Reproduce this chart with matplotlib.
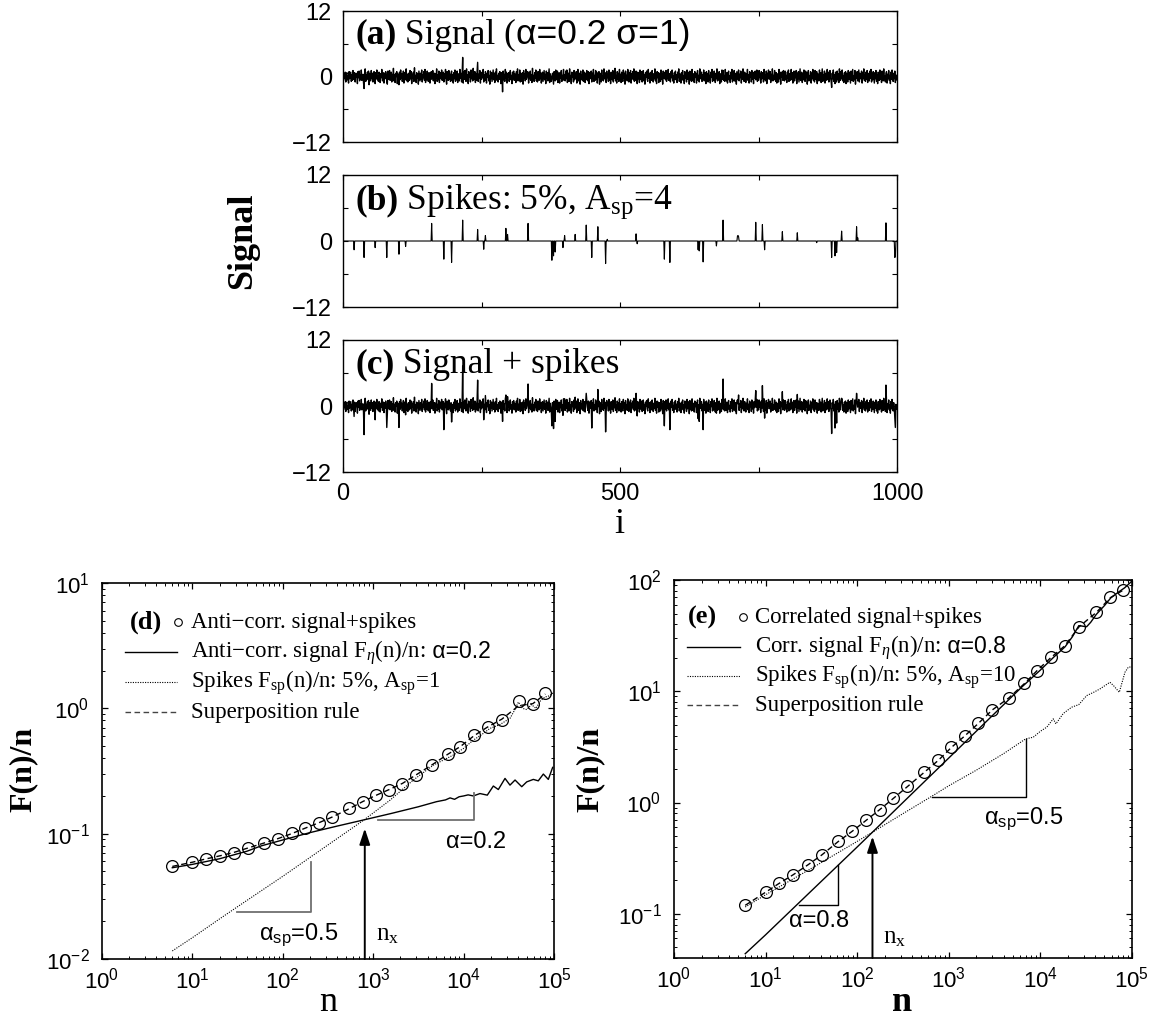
import numpy as np
import matplotlib
matplotlib.use("Agg")
import matplotlib.pyplot as plt
from matplotlib.ticker import LogLocator, NullFormatter, FixedLocator

plt.rcParams["font.family"] = ["Liberation Sans", "DejaVu Sans"]
plt.rcParams["mathtext.fontset"] = "custom"
plt.rcParams["mathtext.rm"] = "Liberation Serif"
plt.rcParams["mathtext.it"] = "Liberation Serif:italic"
plt.rcParams["mathtext.bf"] = "Liberation Serif:bold"
plt.rcParams["mathtext.sf"] = "Liberation Sans"

# ---------------------------------------------------------------- data
# anti-correlated signal (alpha=0.2, sigma=1), values in tenths
signal_tenths = [
    2,-7,5,-3,8,-10,4,7,-6,1,-12,9,-4,2,8,-9,3,-7,11,-5,-3,7,-10,5,-1,6,-13,9,-2,10,-8,3,-5,12,-7,1,4,-11,-22,6,14,-9,3,-6,8,-2,10,-15,6,-1,
    -8,11,-4,6,-10,2,9,-5,-13,7,-3,12,-6,1,-9,8,4,-11,5,-2,13,-8,-1,7,-12,6,-4,9,3,-9,-14,10,-5,2,11,-7,-2,8,-10,4,-6,15,-8,3,-11,6,0,9,-13,5,
    -4,-15,8,-6,12,-3,5,-9,2,10,-12,7,-1,-6,14,-8,3,-10,6,1,-7,11,-4,9,-13,4,-2,8,-9,16,-6,2,-11,7,-3,5,-14,10,1,-8,6,-5,12,-10,3,-2,9,-7,13,-11,
    4,-6,10,-3,-9,7,2,-12,8,-5,9,-4,11,-8,1,6,-13,5,-2,14,-9,3,-6,10,-11,2,7,-4,12,-7,-1,8,-10,5,-3,13,-6,-14,9,2,-7,11,-5,4,-9,6,10,-8,3,-12,
    7,-4,12,-9,2,-6,10,-11,5,1,-8,13,-3,6,-10,4,35,-12,8,-5,11,-2,-9,14,-7,3,-13,9,-1,6,-10,12,-4,2,-8,15,-6,-2,9,-11,5,-7,10,26,-9,4,-3,11,-12,6,
    -5,8,-2,13,-10,3,-7,9,4,-12,6,-1,11,-8,2,-14,10,-4,7,-9,1,12,-6,5,-11,8,-3,14,-7,2,-10,6,-5,9,1,-13,7,-2,-28,10,-6,4,-9,13,-3,8,-12,5,-1,7,
    -9,4,11,-6,2,-13,8,-3,10,-7,5,-1,-11,9,-4,14,-8,3,-6,12,-10,6,1,-9,7,-14,11,-2,5,-8,13,-5,-1,9,8,-12,6,-4,10,-7,3,-11,15,-6,2,-9,7,-3,12,-8,
    5,-10,9,-2,-7,13,-4,6,-12,3,8,-9,1,11,-6,4,-13,10,-3,7,-8,2,14,-11,5,-1,-9,-1,6,-5,-14,9,3,-8,12,-6,-2,10,-11,4,7,-12,6,-3,11,-9,2,-5,13,-7,
    3,-8,10,-4,12,-11,1,6,-9,14,-5,2,-13,8,-1,7,-10,11,-6,4,-3,9,-12,5,13,-8,-2,6,-14,10,-4,3,-7,12,-9,1,8,-11,5,-6,11,-2,-8,9,-13,7,-4,2,10,-10,
    6,-3,13,-9,2,-7,11,-5,8,-12,4,-1,9,-14,6,3,-10,12,-6,1,-8,14,-4,7,-6,-11,10,-2,5,-9,12,-7,3,-13,8,-1,-6,11,-10,4,-3,15,-8,2,-12,9,-5,6,-9,13,
    -7,4,-11,8,1,-9,12,-3,6,-14,10,-5,2,-8,13,-1,-10,7,-4,11,-12,5,-2,9,-6,14,-9,3,-7,10,1,-13,8,-4,6,-11,12,-2,-6,9,-10,4,11,-8,3,-14,7,-1,10,-5,
    -9,13,-3,6,-12,2,8,-7,11,-1,-10,5,-4,14,-8,3,-13,9,-2,7,-11,6,1,-9,12,-5,4,-14,10,-3,-3,8,-6,11,-9,2,-4,13,-7,5,-4,-10,9,-2,12,-8,1,-12,7,-5,
    10,-6,3,-11,8,-2,14,-9,5,-1,-12,7,-4,11,-7,2,-13,9,-3,6,-10,12,-5,1,8,-14,10,-6,3,-9,13,-2,-8,5,-11,9,-1,6,-12,4,11,-7,2,-10,14,-4,-3,8,-9,3,
    -5,12,-8,1,7,-13,9,-3,5,-10,11,-6,2,-12,8,-1,13,-9,4,-7,10,-2,-11,6,-4,14,-8,3,-6,9,-13,5,1,-10,12,-5,11,-7,2,-9,13,-3,-8,7,-12,4,10,-6,1,-11,
    8,-4,13,-10,3,-7,11,-1,-9,6,-14,9,2,-6,12,-8,4,-2,10,-12,7,-5,14,-3,-9,8,1,-11,5,-4,13,-7,3,-12,9,-1,6,-10,11,-5,2,-13,8,-3,10,-6,-2,12,-9,4,
    -7,11,-2,5,-12,9,-4,7,1,-10,13,-6,3,-8,10,-13,6,-1,12,-5,-3,9,-11,4,-7,14,-8,2,-6,11,-2,-9,7,-12,5,3,-10,13,-4,8,-14,6,-1,9,-7,11,-3,-8,10,-5,
    2,-11,8,-3,12,-9,5,-1,-7,13,-5,7,-12,1,10,-8,4,-2,11,-13,6,-4,9,-10,3,14,-7,-1,8,-11,5,-6,12,-3,-9,10,-2,7,-14,4,11,-8,1,-5,9,-12,6,-3,13,-7,
    4,-10,11,-2,-6,9,-13,5,2,-8,12,-4,7,-11,1,14,-9,3,-6,10,-12,6,-1,-7,13,-5,8,-10,2,11,-3,-8,-20,6,-4,12,-9,3,-13,8,-1,-10,10,-6,5,-11,14,-2,-7,9,
    -4,12,-8,2,-11,7,-1,9,-13,6,3,-10,11,-5,8,-2,-12,10,-7,4,13,-9,1,-6,11,-14,5,-3,9,-8,2,12,-10,6,-4,-1,10,-12,7,-3,14,-7,3,-9,8,-5,11,-11,1,6,
    -8,10,-3,13,-10,4,-6,9,-1,-12,7,-4,11,-9,3,-13,8,2,-7,12,-5,6,-11,10,-2,-8,14,-6,1,-10,5,9,-12,4,-3,11,-7,2,-13,8,-5,12,-1,-9,6,-4,10,-11,3,-6,
]

# spikes: 5 % of the points, amplitude up to A_sp = 4
spike_pos = [20, 38, 58, 79, 101, 113, 160, 182, 196, 216, 243, 254, 257, 294, 297,
             334, 377, 380, 383, 397, 400, 419, 439, 449, 460, 474, 477, 529, 531,
             580, 590, 641, 643, 650, 674, 686, 712, 713, 714, 745, 757, 761, 793,
             820, 855, 882, 888, 891, 900, 927, 929, 980, 996, 997]
spike_amp = [-1.6, -3.0, -1.2, -3.0, -2.4, -1.0, 3.2, -3.3, -3.9, 3.8, 2.1, -1.5, 1.0, 2.3, 1.2,
             3.2, -3.5, -2.7, -2.0, -1.2, 1.0, 1.2, 2.9, -3.0, 2.6, -4.1, 0.3, 1.3, -0.5,
             -3.3, -3.9, -1.6, -1.8, -3.8, -0.9, 3.8, 0.9, 1.0, 0.8, 3.4, 3.0, -1.6, 1.7,
             1.5, -0.3, -3.0, -2.7, -2.1, 1.8, 2.6, 0.6, 3.3, -3.0, -2.8]

# window sizes n of the fluctuation analysis (circles)
win_n = [6, 10, 14, 20, 29, 41, 62, 88, 125, 176, 249, 354, 541, 773, 1070, 1503,
         2109, 2992, 4519, 6683, 9183, 13062, 18450, 26485, 40738, 58345, 80168]

# (d) anti-correlated signal + spikes
d_combined = [0.0551, 0.0597, 0.0624, 0.0662, 0.0705, 0.0764, 0.0845, 0.0910, 0.1005,
              0.110, 0.121, 0.135, 0.159, 0.180, 0.203, 0.223, 0.249, 0.294, 0.353,
              0.432, 0.494, 0.612, 0.713, 0.807, 1.151, 1.076, 1.318]
d_superpos = [0.0548, 0.0592, 0.0628, 0.0665, 0.0710, 0.0768, 0.0842, 0.0912, 0.1000,
              0.1105, 0.1220, 0.1360, 0.1580, 0.1810, 0.2020, 0.2250, 0.2520, 0.2950,
              0.3560, 0.4300, 0.4950, 0.6050, 0.7100, 0.8200, 1.0500, 1.0900, 1.3000]
d_signal_n = [6, 10, 20, 40, 58, 100, 200, 400, 794, 1585, 3162, 5012, 6310, 7080, 7940,
              8910, 10000, 11220, 12820, 15170, 18280, 21330, 24210, 28710, 32580, 37070,
              43950, 49890, 59020, 66990, 76210, 86500, 96600]
d_signal_F = [0.0535, 0.0569, 0.0631, 0.0724, 0.0800, 0.0891, 0.102, 0.115, 0.129, 0.145,
              0.164, 0.180, 0.186, 0.193, 0.188, 0.197, 0.200, 0.204, 0.200, 0.209, 0.203,
              0.240, 0.225, 0.276, 0.244, 0.268, 0.237, 0.259, 0.271, 0.264, 0.299, 0.271, 0.338]
d_spike_n = [6, 10, 20, 32, 100, 316, 794, 1535, 2780, 4624, 7690, 10000, 12820, 15850,
             19590, 25120, 32580, 36310, 40360, 44670, 50120, 56230, 63100, 70790, 79430,
             89130, 100000]
d_spike_F = [0.0116, 0.0148, 0.0209, 0.0263, 0.0457, 0.0813, 0.129, 0.185, 0.268, 0.352,
             0.424, 0.479, 0.558, 0.617, 0.692, 0.741, 0.832, 0.955, 1.122, 1.0, 0.977,
             1.072, 1.0, 1.148, 1.23, 1.259, 1.349]

# (e) correlated signal + spikes
e_combined = [0.121, 0.158, 0.188, 0.225, 0.277, 0.339, 0.447, 0.552, 0.689, 0.865, 1.10,
              1.40, 1.88, 2.40, 3.14, 4.00, 5.16, 6.81, 8.73, 11.8, 15.3, 20.2, 25.4, 38.2,
              51.3, 70.0, 81.5]
e_superpos = [0.119, 0.156, 0.187, 0.224, 0.275, 0.337, 0.445, 0.550, 0.690, 0.862, 1.09,
              1.39, 1.87, 2.40, 3.13, 3.98, 5.15, 6.80, 8.70, 11.7, 15.3, 20.1, 25.6, 38.0,
              51.0, 69.5, 81.0]
e_signal_n = [6, 10, 32, 100, 147, 316, 1000, 3162, 6310, 10000, 14130, 18620, 22390,
              26300, 28840, 31990, 35480, 40740, 50120, 58880, 70790, 83180, 100000]
e_signal_F = [0.0437, 0.0646, 0.162, 0.398, 0.541, 1.0, 2.51, 6.31, 10.96, 15.5, 20.4,
              25.1, 30.9, 38.9, 38.5, 38.0, 41.7, 49.0, 58.9, 69.2, 77.6, 85.1, 97.7]
e_spike_n = [6, 10, 32, 100, 147, 316, 653, 1000, 1995, 3981, 6918, 8375, 10000, 11750,
             13840, 14790, 17780, 21980, 26300, 32060, 38020, 44770, 57540, 63100, 72780,
             83950, 91200, 100000]
e_spike_F = [0.115, 0.148, 0.257, 0.447, 0.541, 0.794, 1.138, 1.413, 1.95, 2.754, 3.733,
             3.864, 4.365, 4.753, 5.649, 5.093, 6.31, 7.194, 7.586, 9.141, 9.772, 10.5,
             12.05, 11.22, 9.795, 14.83, 16.44, 16.6]

# ---------------------------------------------------------------- helpers
SERIF = "Liberation Serif"
SANS = "Liberation Sans"


def rich_text(ax, x, y, pieces, transform=None):
    """Draw consecutive text pieces with their own fonts on one baseline."""
    renderer = ax.figure.canvas.get_renderer()
    trans = transform if transform is not None else ax.transAxes
    inv = trans.inverted()
    xd, yd = trans.transform((x, y))
    for s, kw in pieces:
        xa, ya = inv.transform((xd, yd))
        t = ax.text(xa, ya, s, transform=trans, ha="left", va="baseline", **kw)
        xd = t.get_window_extent(renderer).x1


def style_signal_axis(ax, show_x):
    ax.set_xlim(0, 1000)
    ax.set_ylim(-12, 12)
    ax.set_yticks([-12, 0, 12])
    ax.yaxis.set_minor_locator(FixedLocator([-6, 6]))
    ax.set_xticks([0, 500, 1000])
    ax.xaxis.set_minor_locator(FixedLocator([250, 750]))
    ax.tick_params(which="both", direction="in", top=True, right=True,
                   length=3.5, width=0.8, labelsize=17, pad=8)
    if not show_x:
        ax.tick_params(labelbottom=False)
    for sp in ax.spines.values():
        sp.set_linewidth(1.0)


def style_log_axis(ax, ylim):
    ax.set_xscale("log")
    ax.set_yscale("log")
    ax.set_xlim(1, 1e5)
    ax.set_ylim(*ylim)
    ax.xaxis.set_major_locator(LogLocator(base=10, numticks=10))
    ax.yaxis.set_major_locator(LogLocator(base=10, numticks=10))
    for axis in (ax.xaxis, ax.yaxis):
        axis.set_minor_locator(LogLocator(base=10, subs=np.arange(2, 10), numticks=20))
        axis.set_minor_formatter(NullFormatter())
    ax.tick_params(which="both", direction="in", top=True, right=True, labelsize=16)
    ax.tick_params(which="major", length=4, width=0.9)
    ax.tick_params(which="minor", length=2.2, width=0.7)
    ax.tick_params(axis="x", pad=6)
    ax.tick_params(axis="y", pad=9)
    for sp in ax.spines.values():
        sp.set_linewidth(1.2)


ARROW = dict(arrowstyle="-|>,head_length=0.6,head_width=0.2", color="black", lw=1.4,
             mutation_scale=16, shrinkA=0, shrinkB=0)

# ---------------------------------------------------------------- figure
fig = plt.figure(figsize=(11.6, 10.21), dpi=100)

signal = np.array(signal_tenths, dtype=float) / 10.0
idx = np.arange(len(signal))
spikes = np.zeros(len(signal))
spikes[spike_pos] = spike_amp
combined = signal + spikes

ax_a = fig.add_axes([0.2957, 0.8609, 0.4776, 0.1283])
ax_b = fig.add_axes([0.2957, 0.6993, 0.4776, 0.1293])
ax_c = fig.add_axes([0.2957, 0.5377, 0.4776, 0.1293])

ax_a.plot(idx, signal, color="black", lw=1.0)
ax_b.plot(idx, spikes, color="black", lw=0.8)
ax_c.plot(idx, combined, color="black", lw=1.0)
style_signal_axis(ax_a, False)
style_signal_axis(ax_b, False)
style_signal_axis(ax_c, True)

TSIZE = 25.5
title_kw = dict(family=SERIF, fontsize=TSIZE)
bold_kw = dict(family=SERIF, fontsize=TSIZE, weight="bold")
rich_text(ax_a, 0.022, 0.75, [("(a)", bold_kw), (" Signal (", title_kw),
                              ("\u03b1=0.2 \u03c3=1)", dict(family=SANS, fontsize=TSIZE))])
rich_text(ax_b, 0.022, 0.74, [("(b)", bold_kw), (" Spikes: 5%, A$_{\\rm sp}$=4", title_kw)])
rich_text(ax_c, 0.022, 0.75, [("(c)", bold_kw), (" Signal + spikes", title_kw)])

fig.text(0.209, 0.764, "Signal", rotation=90, ha="center", va="center",
         family=SERIF, weight="bold", fontsize=26)
fig.text(0.534, 0.486, "i", ha="center", va="center", family=SERIF, fontsize=26)

# ---------------------------------------------------------------- (d)
ax_d = fig.add_axes([0.0879, 0.0607, 0.3897, 0.3683])
style_log_axis(ax_d, (0.01, 10))
ax_d.plot(d_signal_n, d_signal_F, color="black", lw=1.0)
ax_d.plot(d_spike_n, d_spike_F, color="black", lw=0.8, ls=(0, (1, 1.2)))
ax_d.plot(win_n, d_superpos, color="black", lw=1.0, ls=(0, (4, 2.5)))
ax_d.plot(win_n, d_combined, ls="none", marker="o", ms=8.5, mfc="none",
          mec="black", mew=0.9)

grey = "#707070"
ax_d.plot([31.2, 206, 206], [0.0238, 0.0238, 0.0597], color=grey, lw=1.3)
ax_d.plot([1125, 13060, 13060], [0.1285, 0.1285, 0.21], color=grey, lw=1.3)
ax_d.annotate("", xy=(807, 0.110), xytext=(807, 0.01), arrowprops=ARROW)
ax_d.text(13700, 0.0857, "\u03b1=0.2", ha="center", va="center", family=SANS, fontsize=17)
ax_d.text(55, 0.01416, "\u03b1$_{\\mathsf{sp}}$=0.5", ha="left", va="baseline",
          family=SANS, fontsize=17)
ax_d.text(1072, 0.01416, "n$_{\\rm x}$", ha="left", va="baseline", family=SERIF, fontsize=18)

LSIZE = 16.5
leg_kw = dict(family=SERIF, fontsize=LSIZE)
sans_leg = dict(family=SANS, fontsize=LSIZE)
rich_text(ax_d, 0.061, 0.880, [("(d)", dict(family=SERIF, fontsize=19, weight="bold"))])
ax_d.plot([0.1677], [0.897], transform=ax_d.transAxes, ls="none", marker="o", ms=5.5,
          mfc="none", mec="black", mew=0.8, clip_on=False)
ax_d.plot([0.051, 0.166], [0.817, 0.817], transform=ax_d.transAxes, color="black", lw=1.0)
ax_d.plot([0.051, 0.166], [0.737, 0.737], transform=ax_d.transAxes, color="black",
          lw=0.8, ls=(0, (1, 1.2)))
ax_d.plot([0.051, 0.166], [0.657, 0.657], transform=ax_d.transAxes, color="#444444",
          lw=1.0, ls=(0, (4, 2.5)))
rich_text(ax_d, 0.198, 0.880, [("Anti\u2212corr. signal+spikes", leg_kw)])
rich_text(ax_d, 0.198, 0.800, [("Anti\u2212corr. signal F$_{\\eta}$(n)/n:", leg_kw),
                               (" \u03b1=0.2", sans_leg)])
rich_text(ax_d, 0.198, 0.721, [("Spikes F$_{\\rm sp}$(n)/n: 5%, A$_{\\rm sp}$=1", leg_kw)])
rich_text(ax_d, 0.198, 0.641, [("Superposition rule", leg_kw)])

fig.text(0.2826, 0.010, "n", ha="center", va="baseline", family=SERIF, fontsize=26)
fig.text(0.020, 0.246, "F(n)/n", rotation=90, ha="center", va="center",
         family=SERIF, weight="bold", fontsize=23)

# ---------------------------------------------------------------- (e)
ax_e = fig.add_axes([0.581, 0.0617, 0.3948, 0.3702])
style_log_axis(ax_e, (0.04, 100))
ax_e.plot(e_signal_n, e_signal_F, color="black", lw=1.0)
ax_e.plot(e_spike_n, e_spike_F, color="black", lw=0.8, ls=(0, (1, 1.2)))
ax_e.plot(win_n, e_superpos, color="black", lw=1.0, ls=(0, (4, 2.5)))
ax_e.plot(win_n, e_combined, ls="none", marker="o", ms=8.5, mfc="none",
          mec="black", mew=0.9)

ax_e.plot([22.9, 62, 62], [0.121, 0.121, 0.272], color="black", lw=1.0)
ax_e.plot([653, 6918, 6918], [1.117, 1.117, 3.73], color="black", lw=1.0)
ax_e.annotate("", xy=(147, 0.495), xytext=(147, 0.04), arrowprops=ARROW)
ax_e.text(18.2, 0.0758, "\u03b1=0.8", ha="left", va="baseline", family=SANS, fontsize=17)
ax_e.text(2405, 0.644, "\u03b1$_{\\mathsf{sp}}$=0.5", ha="left", va="baseline",
          family=SANS, fontsize=17)
ax_e.text(191, 0.0537, "n$_{\\rm x}$", ha="left", va="baseline", family=SERIF, fontsize=18)

rich_text(ax_e, 0.031, 0.885, [("(e)", dict(family=SERIF, fontsize=19, weight="bold"))])
ax_e.plot([0.150], [0.903], transform=ax_e.transAxes, ls="none", marker="o", ms=5.5,
          mfc="none", mec="black", mew=0.8, clip_on=False)
ax_e.plot([0.029, 0.144], [0.824, 0.824], transform=ax_e.transAxes, color="black", lw=1.0)
ax_e.plot([0.029, 0.144], [0.747, 0.747], transform=ax_e.transAxes, color="black",
          lw=0.8, ls=(0, (1, 1.2)))
ax_e.plot([0.029, 0.144], [0.669, 0.669], transform=ax_e.transAxes, color="#444444",
          lw=1.0, ls=(0, (4, 2.5)))
rich_text(ax_e, 0.176, 0.885, [("Correlated signal+spikes", leg_kw)])
rich_text(ax_e, 0.176, 0.807, [("Corr. signal F$_{\\eta}$(n)/n:", leg_kw),
                               (" \u03b1=0.8", sans_leg)])
rich_text(ax_e, 0.176, 0.730, [("Spikes F$_{\\rm sp}$(n)/n: 5%, A$_{\\rm sp}$=10", leg_kw)])
rich_text(ax_e, 0.176, 0.653, [("Superposition rule", leg_kw)])

fig.text(0.7776, 0.010, "n", ha="center", va="baseline", family=SERIF, weight="bold",
         fontsize=26)
fig.text(0.509, 0.246, "F(n)/n", rotation=90, ha="center", va="center",
         family=SERIF, weight="bold", fontsize=23)

fig.savefig("out.png", dpi=100)
